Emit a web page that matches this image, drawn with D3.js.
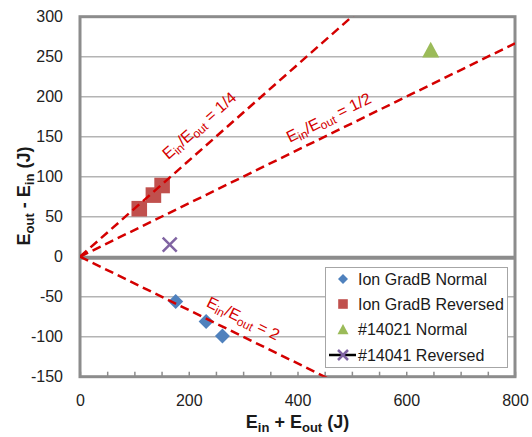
<!DOCTYPE html>
<html>
<head>
<meta charset="utf-8">
<script src="https://cdn.jsdelivr.net/npm/d3@7"></script>
<style>
  html, body { margin: 0; padding: 0; background: #fff; }
  svg { display: block; }
  text { font-family: "Liberation Sans", Arial, sans-serif; }
</style>
</head>
<body>
<svg id="chart" width="532" height="437"></svg>
<script>
// Energy balance: E_out - E_in against E_in + E_out
const normalX = [176, 232, 262];      // Ion GradB Normal
const normalY = [-56, -81, -99];
const reversedX = [109, 135, 151];    // Ion GradB Reversed
const reversedY = [60, 77, 89];
const shot14021X = [645];             // #14021 Normal
const shot14021Y = [258];
const shot14041X = [165];             // #14041 Reversed
const shot14041Y = [15];

// Reference lines of constant E_in/E_out
const ratios = [1 / 4, 1 / 2, 2];
const ratioLabels = ["1/4", "1/2", "2"];

const xTicks = [0, 200, 400, 600, 800];
const yTicks = [-150, -100, -50, 0, 50, 100, 150, 200, 250, 300];
const legendNames = ["Ion GradB Normal", "Ion GradB Reversed", "#14021 Normal", "#14041 Reversed"];

const W = 532, H = 437;
const pLeft = 80, pRight = 515, pTop = 16.7, pBottom = 376.7;
const svg = d3.select("#chart");

const x = d3.scaleLinear().domain([0, 800]).range([pLeft, pRight]);
const y = d3.scaleLinear().domain([-150, 300]).range([pBottom, pTop]);

const C = { blue: "#4f81bd", red: "#c0504d", green: "#9bbb59", purple: "#8064a2", line: "#d40000", axis: "#8c8c8c", grid: "#b4b4b4" };
const plain = v => String(v);   // hyphen-minus for negative ticks

svg.append("rect").attr("width", W).attr("height", H).attr("fill", "#fff");

// horizontal gridlines
svg.append("g").selectAll("line").data(yTicks.filter(v => v !== 0 && v !== -150 && v !== 300)).join("line")
  .attr("x1", pLeft).attr("x2", pRight)
  .attr("y1", d => y(d)).attr("y2", d => y(d))
  .attr("stroke", C.grid).attr("stroke-width", 1.5);

// zero line
svg.append("line").attr("x1", pLeft).attr("x2", pRight)
  .attr("y1", y(0) + 1).attr("y2", y(0) + 1)
  .attr("stroke", C.axis).attr("stroke-width", 4);

// minor ticks along the bottom edge
const minor = svg.append("g").attr("transform", `translate(0,${pBottom})`)
  .call(d3.axisBottom(x).tickValues(d3.range(0, 801, 50)).tickSizeInner(-5).tickSizeOuter(0).tickFormat(""));
minor.select(".domain").remove();
minor.selectAll("line").attr("stroke", C.axis).attr("stroke-width", 1.5);

// plot border
svg.append("rect").attr("x", pLeft).attr("y", pTop).attr("width", pRight - pLeft).attr("height", pBottom - pTop)
  .attr("fill", "none").attr("stroke", C.axis).attr("stroke-width", 3);

// tick labels
const ax = svg.append("g").attr("transform", `translate(0,${pBottom})`)
  .call(d3.axisBottom(x).tickValues(xTicks).tickFormat(plain).tickSize(0).tickPadding(18));
ax.select(".domain").remove();
ax.selectAll("text").attr("font-size", 16).attr("fill", "#222").style("font-family", "Liberation Sans, Arial, sans-serif");

const ay = svg.append("g").attr("transform", `translate(${pLeft},0)`)
  .call(d3.axisLeft(y).tickValues(yTicks).tickFormat(plain).tickSize(0).tickPadding(17));
ay.select(".domain").remove();
ay.selectAll("text").attr("font-size", 16).attr("fill", "#222").style("font-family", "Liberation Sans, Arial, sans-serif");

// marker shapes
const diamond = s => `M0,${-s}L${s},0L0,${s}L${-s},0Z`;
const square = s => `M${-s},${-s}H${s}V${s}H${-s}Z`;
const triangle = s => `M0,${-s}L${s},${s * 0.85}L${-s},${s * 0.85}Z`;
const cross = s => `M${-s},${-s}L${s},${s}M${s},${-s}L${-s},${s}`;

const plot = svg.append("g");
plot.selectAll(".sq").data(d3.zip(reversedX, reversedY)).join("path")
  .attr("transform", d => `translate(${x(d[0])},${y(d[1])})`)
  .attr("d", square(7.8)).attr("fill", C.red);
plot.selectAll(".dm").data(d3.zip(normalX, normalY)).join("path")
  .attr("transform", d => `translate(${x(d[0])},${y(d[1])})`)
  .attr("d", diamond(7.5)).attr("fill", C.blue);
plot.selectAll(".tr").data(d3.zip(shot14021X, shot14021Y)).join("path")
  .attr("transform", d => `translate(${x(d[0])},${y(d[1])})`)
  .attr("d", triangle(8.5)).attr("fill", C.green);
plot.selectAll(".cx").data(d3.zip(shot14041X, shot14041Y)).join("path")
  .attr("transform", d => `translate(${x(d[0])},${y(d[1])})`)
  .attr("d", cross(7)).attr("fill", "none").attr("stroke", C.purple).attr("stroke-width", 2.5);

// ratio lines: E_out - E_in = (E_in + E_out)(1 - r)/(1 + r)
svg.append("clipPath").attr("id", "clip").append("rect")
  .attr("x", pLeft).attr("y", pTop).attr("width", pRight - pLeft).attr("height", pBottom - pTop);
const slope = r => (1 - r) / (1 + r);
const lines = svg.append("g").attr("clip-path", "url(#clip)");
lines.selectAll("line").data(ratios).join("line")
  .attr("x1", x(0)).attr("y1", y(0))
  .attr("x2", x(800)).attr("y2", r => y(800 * slope(r)))
  .attr("stroke", C.line).attr("stroke-width", 2.5).attr("stroke-dasharray", "9,5");

// line labels, rotated along each line
const labelAt = [243, 470, 287];   // position along E_in + E_out
const labelOff = [-14, -10, -11];  // baseline distance above the line
ratios.forEach((r, i) => {
  const s = labelAt[i];
  const px = x(s), py = y(s * slope(r));
  const ang = Math.atan2(y(800 * slope(r)) - y(0), x(800) - x(0)) * 180 / Math.PI;
  const t = svg.append("text")
    .attr("transform", `translate(${px},${py}) rotate(${ang})`)
    .attr("y", labelOff[i]).attr("text-anchor", "middle")
    .attr("font-size", 16).attr("fill", C.line);
  t.append("tspan").text("E");
  t.append("tspan").attr("font-size", 12).attr("dy", 3).text("in");
  t.append("tspan").attr("dy", -3).text("/E");
  t.append("tspan").attr("font-size", 12).attr("dy", 3).text("out");
  t.append("tspan").attr("dy", -3).text(" = " + ratioLabels[i]);
});

// legend
const lg = svg.append("g");
lg.append("rect").attr("x", 325.5).attr("y", 267.5).attr("width", 182).attr("height", 100)
  .attr("fill", "#fff").attr("stroke", "#a6a6a6").attr("stroke-width", 1);
const rows = [279, 304, 329.5, 355];
const mx = 343;
lg.append("path").attr("transform", `translate(${mx},${rows[0]})`).attr("d", diamond(5)).attr("fill", C.blue);
lg.append("path").attr("transform", `translate(${mx},${rows[1]})`).attr("d", square(4.8)).attr("fill", C.red);
lg.append("path").attr("transform", `translate(${mx},${rows[2]})`).attr("d", triangle(5.5)).attr("fill", C.green);
lg.append("line").attr("x1", 329).attr("x2", 356).attr("y1", rows[3]).attr("y2", rows[3])
  .attr("stroke", "#000").attr("stroke-width", 2.5);
lg.append("path").attr("transform", `translate(${mx},${rows[3]})`).attr("d", cross(5))
  .attr("fill", "none").attr("stroke", C.purple).attr("stroke-width", 2.5);
lg.selectAll("text").data(legendNames).join("text")
  .attr("x", 358).attr("y", (d, i) => rows[i] + 5.8)
  .attr("font-size", 16).attr("fill", "#1a1a1a").text(d => d);

// axis titles
const xt = svg.append("text").attr("x", (pLeft + pRight) / 2).attr("y", 428)
  .attr("text-anchor", "middle").attr("font-size", 18).attr("font-weight", "bold").attr("fill", "#1a1a1a");
xt.append("tspan").text("E");
xt.append("tspan").attr("font-size", 13).attr("dy", 4).text("in");
xt.append("tspan").attr("dy", -4).text(" + E");
xt.append("tspan").attr("font-size", 13).attr("dy", 4).text("out");
xt.append("tspan").attr("dy", -4).text(" (J)");

const yt = svg.append("text").attr("transform", "translate(30,196) rotate(-90)")
  .attr("text-anchor", "middle").attr("font-size", 18).attr("font-weight", "bold").attr("fill", "#1a1a1a");
yt.append("tspan").text("E");
yt.append("tspan").attr("font-size", 13).attr("dy", 4).text("out");
yt.append("tspan").attr("dy", -4).text(" - E");
yt.append("tspan").attr("font-size", 13).attr("dy", 4).text("in");
yt.append("tspan").attr("dy", -4).text(" (J)");
</script>
</body>
</html>
